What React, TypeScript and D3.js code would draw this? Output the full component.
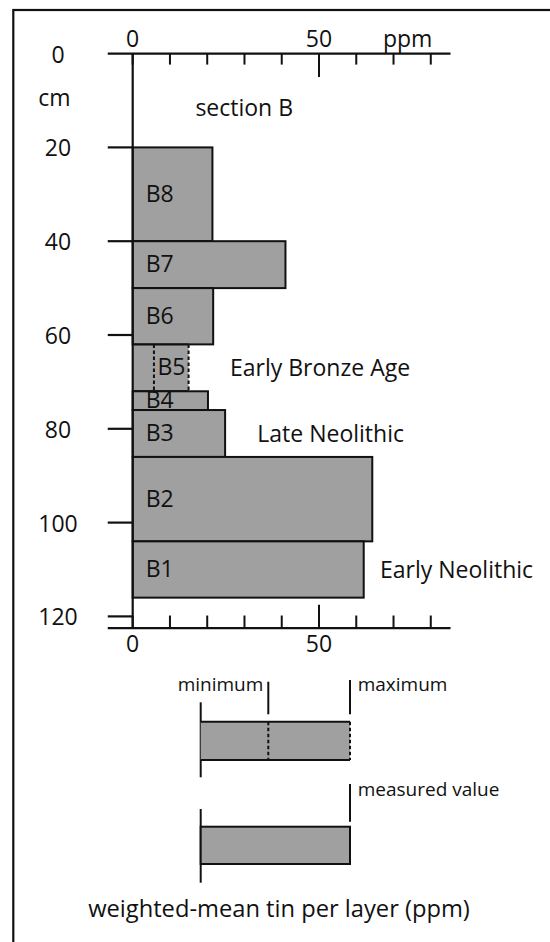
import React from "react";
import * as d3 from "d3";

const layers = ["B8", "B7", "B6", "B5", "B4", "B3", "B2", "B1"];
const depthTop = [20, 40, 50, 62, 72, 76, 86, 104];
const depthBottom = [40, 50, 62, 72, 76, 86, 104, 116];
const tinValue = [21.4, 41.0, 21.6, 15.0, 20.2, 24.8, 64.3, 62.0];
const tinMinimum = [null, null, null, 5.7, null, null, null, null];

const depthTicks = [0, 20, 40, 60, 80, 100, 120];
const ppmTicks = [0, 10, 20, 30, 40, 50, 60, 70, 80];
const ppmLabels = [0, 50];

const periods = ["Early Bronze Age", "Late Neolithic", "Early Neolithic"];
const periodDepth = [67, 81, 110];

const FONT = "'Open Sans', sans-serif";
const INK = "#111";
const FILL = "#a0a0a0";

export default function App() {
  const x = d3.scaleLinear().domain([0, 50]).range([132.7, 319]);
  const y = d3.scaleLinear().domain([0, 120]).range([53.6, 616.4]);

  const axL = x(-6.7);
  const axR = x(85.3);
  const topY = y(0);
  const botY = y(122.5);

  const periodX = [230, 257.3, 380];

  // legend layout
  const lgL = 200.7, lgM = 268.3, lgR = 350;

  return (
    <svg
      width={550}
      height={942}
      style={{ position: "absolute", left: 0, top: 0, background: "#fff" }}
      fontFamily={FONT}
    >
      <rect x={0} y={0} width={550} height={942} fill="#fff" />
      {/* frame */}
      <rect x={13.3} y={10} width={560} height={960} fill="none" stroke={INK} strokeWidth={2.2} />

      {/* bars */}
      {layers.map((name, i) => {
        const y0 = y(depthTop[i]);
        const y1 = y(depthBottom[i]);
        const x1 = x(tinValue[i]);
        const mn = tinMinimum[i];
        if (mn == null) {
          return (
            <rect key={name} x={x(0)} y={y0} width={x1 - x(0)} height={y1 - y0}
              fill={FILL} stroke={INK} strokeWidth={2} />
          );
        }
        return (
          <g key={name}>
            <rect x={x(0)} y={y0} width={x1 - x(0)} height={y1 - y0} fill={FILL} />
            <line x1={x(0)} x2={x1} y1={y0} y2={y0} stroke={INK} strokeWidth={2} />
            <line x1={x(0)} x2={x1} y1={y1} y2={y1} stroke={INK} strokeWidth={2} />
            <line x1={x(mn)} x2={x(mn)} y1={y0} y2={y1} stroke={INK} strokeWidth={2} strokeDasharray="3.5,2.5" />
            <line x1={x1} x2={x1} y1={y0} y2={y1} stroke={INK} strokeWidth={2} strokeDasharray="3.5,2.5" />
          </g>
        );
      })}
      {layers.map((name, i) => {
        const y0 = y(depthTop[i]);
        const y1 = y(depthBottom[i]);
        const mn = tinMinimum[i];
        const lx = mn == null ? x(0) + 13 : x(mn) + 3.5;
        return (
          <text key={name + "t"} x={lx} y={(y0 + y1) / 2 + 7.5} fontSize={23} fill={INK}>
            {name}
          </text>
        );
      })}

      {/* top axis */}
      <line x1={axL} x2={axR} y1={topY} y2={topY} stroke={INK} strokeWidth={2.2} />
      {ppmTicks.map((t) => (
        <line key={"tt" + t} x1={x(t)} x2={x(t)} y1={topY} y2={topY + (t === 50 ? 23.3 : 11)}
          stroke={INK} strokeWidth={2} />
      ))}
      {ppmLabels.map((t) => (
        <text key={"tl" + t} x={x(t)} y={47.2} textAnchor="middle" fontSize={23} fill={INK}>{t}</text>
      ))}
      <text x={407.7} y={46.7} textAnchor="middle" fontSize={23} fill={INK}>ppm</text>

      {/* bottom axis */}
      <line x1={axL} x2={axR} y1={botY} y2={botY} stroke={INK} strokeWidth={2.2} />
      {ppmTicks.map((t) => (
        <line key={"bt" + t} x1={x(t)} x2={x(t)} y1={botY} y2={botY - (t === 50 ? 23.3 : 12.6)}
          stroke={INK} strokeWidth={2} />
      ))}
      {ppmLabels.map((t) => (
        <text key={"bl" + t} x={x(t)} y={651.7} textAnchor="middle" fontSize={23} fill={INK}>{t}</text>
      ))}

      {/* depth axis */}
      <line x1={x(0)} x2={x(0)} y1={topY} y2={botY} stroke={INK} strokeWidth={2.2} />
      {depthTicks.map((d) => (
        <g key={"d" + d}>
          {d > 0 && <line x1={axL} x2={x(0)} y1={y(d)} y2={y(d)} stroke={INK} strokeWidth={2.2} />}
          <text x={58} y={y(d) + 9} textAnchor="middle" fontSize={23} fill={INK}>{d}</text>
        </g>
      ))}
      <text x={54.3} y={106} textAnchor="middle" fontSize={23} fill={INK}>cm</text>
      <text x={195.4} y={116} fontSize={23} fill={INK}>section B</text>

      {/* periods */}
      {periods.map((p, i) => (
        <text key={p} x={periodX[i]} y={y(periodDepth[i]) + 8.5} fontSize={23} fill={INK}>{p}</text>
      ))}

      {/* legend */}
      <line x1={lgL} x2={lgL} y1={702.3} y2={777.3} stroke={INK} strokeWidth={2} />
      <rect x={lgL} y={721.7} width={lgR - lgL} height={760 - 721.7} fill={FILL} />
      <line x1={lgL} x2={lgR} y1={721.7} y2={721.7} stroke={INK} strokeWidth={2} />
      <line x1={lgL} x2={lgR} y1={760} y2={760} stroke={INK} strokeWidth={2} />
      <line x1={lgM} x2={lgM} y1={721.7} y2={760} stroke={INK} strokeWidth={2} strokeDasharray="3.5,2.5" />
      <line x1={lgR} x2={lgR} y1={721.7} y2={760} stroke={INK} strokeWidth={2} strokeDasharray="3.5,2.5" />
      <line x1={lgM} x2={lgM} y1={681.7} y2={714.3} stroke={INK} strokeWidth={2} />
      <line x1={lgR} x2={lgR} y1={680} y2={714.3} stroke={INK} strokeWidth={2} />
      <text x={263.3} y={690.7} textAnchor="end" fontSize={19} fill={INK}>minimum</text>
      <text x={357.7} y={690.7} fontSize={19} fill={INK}>maximum</text>

      <line x1={lgR} x2={lgR} y1={784} y2={821.7} stroke={INK} strokeWidth={2} />
      <text x={357.7} y={796} fontSize={19} fill={INK}>measured value</text>
      <line x1={lgL} x2={lgL} y1={809} y2={882.7} stroke={INK} strokeWidth={2} />
      <rect x={lgL} y={826.7} width={lgR - lgL} height={864 - 826.7} fill={FILL} stroke={INK} strokeWidth={2} />

      <text x={279} y={917} textAnchor="middle" fontSize={23.7} fill={INK}>weighted-mean tin per layer (ppm)</text>
    </svg>
  );
}
